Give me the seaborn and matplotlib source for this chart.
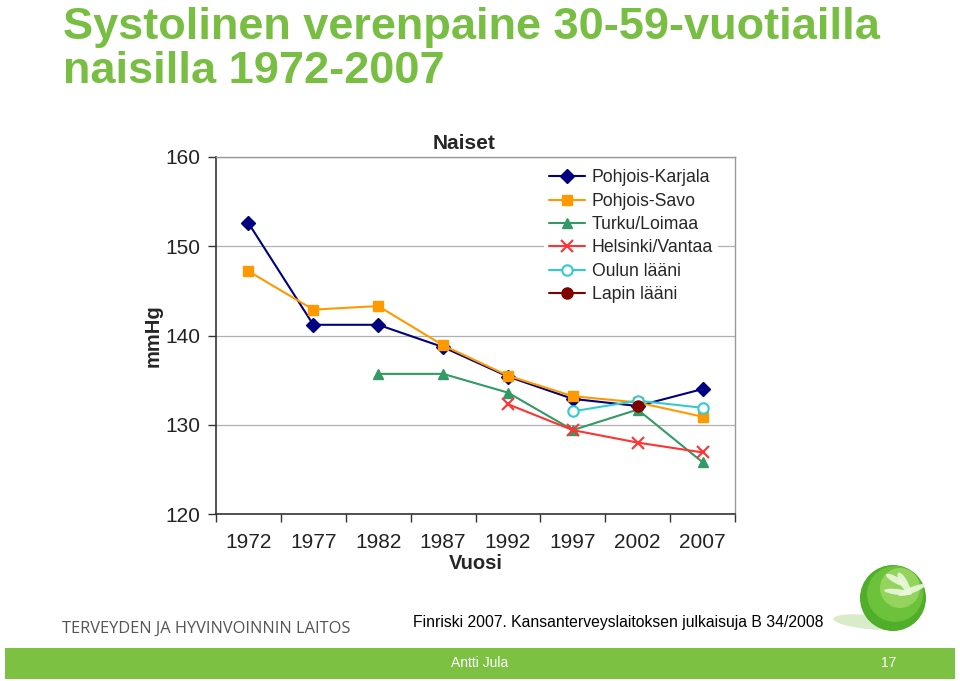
import pandas as pd
import numpy as np
import matplotlib
matplotlib.use("Agg")
import matplotlib.pyplot as plt
import seaborn as sns
from matplotlib.patches import Rectangle, Ellipse

sns.set_style("white")
plt.rcParams['font.family'] = ['Liberation Sans', 'DejaVu Sans']

# data (mmHg)
years = ['1972', '1977', '1982', '1987', '1992', '1997', '2002', '2007']
pohjois_karjala = [152.6, 141.2, 141.2, 138.7, 135.4, 132.9, 132.1, 134.0]
pohjois_savo = [147.2, 142.9, 143.3, 138.9, 135.5, 133.2, 132.5, 130.9]
turku_loimaa = [np.nan, np.nan, 135.7, 135.7, 133.6, 129.4, 131.7, 125.8]
helsinki_vantaa = [np.nan, np.nan, np.nan, np.nan, 132.3, 129.4, 128.0, 126.9]
oulun_laani = [np.nan, np.nan, np.nan, np.nan, np.nan, 131.5, 132.7, 131.9]
lapin_laani = [np.nan, np.nan, np.nan, np.nan, np.nan, np.nan, 132.1, np.nan]

series = {
    'Pohjois-Karjala': pohjois_karjala,
    'Pohjois-Savo': pohjois_savo,
    'Turku/Loimaa': turku_loimaa,
    'Helsinki/Vantaa': helsinki_vantaa,
    'Oulun lääni': oulun_laani,
    'Lapin lääni': lapin_laani,
}
# colour, marker, face colour
styles = {
    'Pohjois-Karjala': ('#000080', 'D', '#000080'),
    'Pohjois-Savo': ('#FF9900', 's', '#FF9900'),
    'Turku/Loimaa': ('#339966', '^', '#339966'),
    'Helsinki/Vantaa': ('#FF3333', 'x', '#FF3333'),
    'Oulun lääni': ('#33CCCC', 'o', 'white'),
    'Lapin lääni': ('#800000', 'o', '#800000'),
}

rows = []
for name, vals in series.items():
    for i, v in enumerate(vals):
        rows.append({'pos': i, 'vuosi': years[i], 'mmHg': v, 'alue': name})
df = pd.DataFrame(rows)

fig = plt.figure(figsize=(9.6, 6.81), dpi=100)
ax = fig.add_axes([216/960, 1-514/681, 519/960, 357/681])

for name in series:
    col, mk, fc = styles[name]
    d = df[(df.alue == name) & df.mmHg.notna()]
    sns.lineplot(data=d, x='pos', y='mmHg', ax=ax, color=col, marker=mk,
                 markersize=7.5 if mk != 'x' else 8, markerfacecolor=fc,
                 markeredgecolor=col, markeredgewidth=1.5 if mk in ('x', 'o') else 1,
                 linewidth=1.5, label=name, sort=False)

ax.set_xlim(-0.5, 7.5)
ax.set_ylim(120, 160)
ax.set_yticks([120, 130, 140, 150, 160])
ax.yaxis.grid(True, color='#b0b0b0', linewidth=0.9)
ax.set_axisbelow(True)
ax.set_xticks(range(len(years)))
ax.set_xticklabels(years, fontsize=15, color='#222222')
ax.set_xticks(np.arange(-0.5, 8, 1), minor=True)
ax.tick_params(axis='x', which='major', length=0, pad=14)
ax.tick_params(axis='x', which='minor', length=6, width=1, color='#333333', direction='out')
ax.tick_params(axis='y', length=6, width=1, color='#333333', direction='out',
               labelsize=15, labelcolor='#222222', pad=5)
ax.tick_params(axis='x', bottom=True, which='both')
ax.tick_params(axis='y', left=True)
for s in ['top', 'right']:
    ax.spines[s].set_color('#999999')
    ax.spines[s].set_linewidth(1)
for s in ['left', 'bottom']:
    ax.spines[s].set_color('#333333')
    ax.spines[s].set_linewidth(1.2)

ax.set_xlabel('Vuosi', fontsize=14.5, fontweight='bold', labelpad=1)
ax.set_ylabel('mmHg', fontsize=14.5, fontweight='bold', labelpad=2)
ax.set_title('Naiset', fontsize=15, fontweight='bold', pad=6, x=0.477)

leg = ax.legend(loc='upper left', bbox_to_anchor=(0.615, 1.005), frameon=True,
                framealpha=1, edgecolor='white', fontsize=12.7, handlelength=2.0,
                labelspacing=0.36, borderpad=0.3, handletextpad=0.4)
leg.get_frame().set_linewidth(0)

# slide decorations
fig.text(0.066, 0.99, 'Systolinen verenpaine 30-59-vuotiailla\nnaisilla 1972-2007',
         ha='left', va='top', fontsize=32.5, fontweight='bold', color='#78BE43',
         linespacing=1.1)
fig.text(62/960, 1-629/681, 'TERVEYDEN JA HYVINVOINNIN LAITOS', ha='left', va='center',
         fontsize=11.8, color='#555555', family=['Open Sans', 'DejaVu Sans'])
fig.text(413/960, 1-623/681, 'Finriski 2007. Kansanterveyslaitoksen julkaisuja B 34/2008',
         ha='left', va='center', fontsize=11.3, color='black')
fig.patches.append(Rectangle((5/960, 1-679/681), 950/960, 31/681, transform=fig.transFigure,
                             facecolor='#7DC142', edgecolor='none'))
fig.text(480/960, 1-663/681, 'Antti Jula', ha='center', va='center', fontsize=10, color='white')
fig.text(889/960, 1-663/681, '17', ha='center', va='center', fontsize=10, color='white')

# green ball logo
def blob(cx, cy, w, h, fc, alpha=1.0, angle=0):
    fig.patches.append(Ellipse((cx/960, 1-cy/681), w/960, h/681, angle=angle,
                               transform=fig.transFigure, facecolor=fc,
                               edgecolor='none', alpha=alpha))

blob(868, 622, 70, 14, '#cfe8bc', 0.8, -8)
blob(893, 598, 66, 66, '#4FAE2A')
blob(895, 594, 56, 56, '#6CC23A')
blob(900, 588, 40, 40, '#94D45E')
blob(904, 583, 8, 22, '#EAF8DD', 0.9, 20)
blob(912, 590, 8, 22, '#EAF8DD', 0.9, -60)
blob(898, 592, 8, 20, '#EAF8DD', 0.9, 80)
blob(896, 580, 8, 18, '#EAF8DD', 0.9, 50)

fig.savefig('out.png', dpi=100)
